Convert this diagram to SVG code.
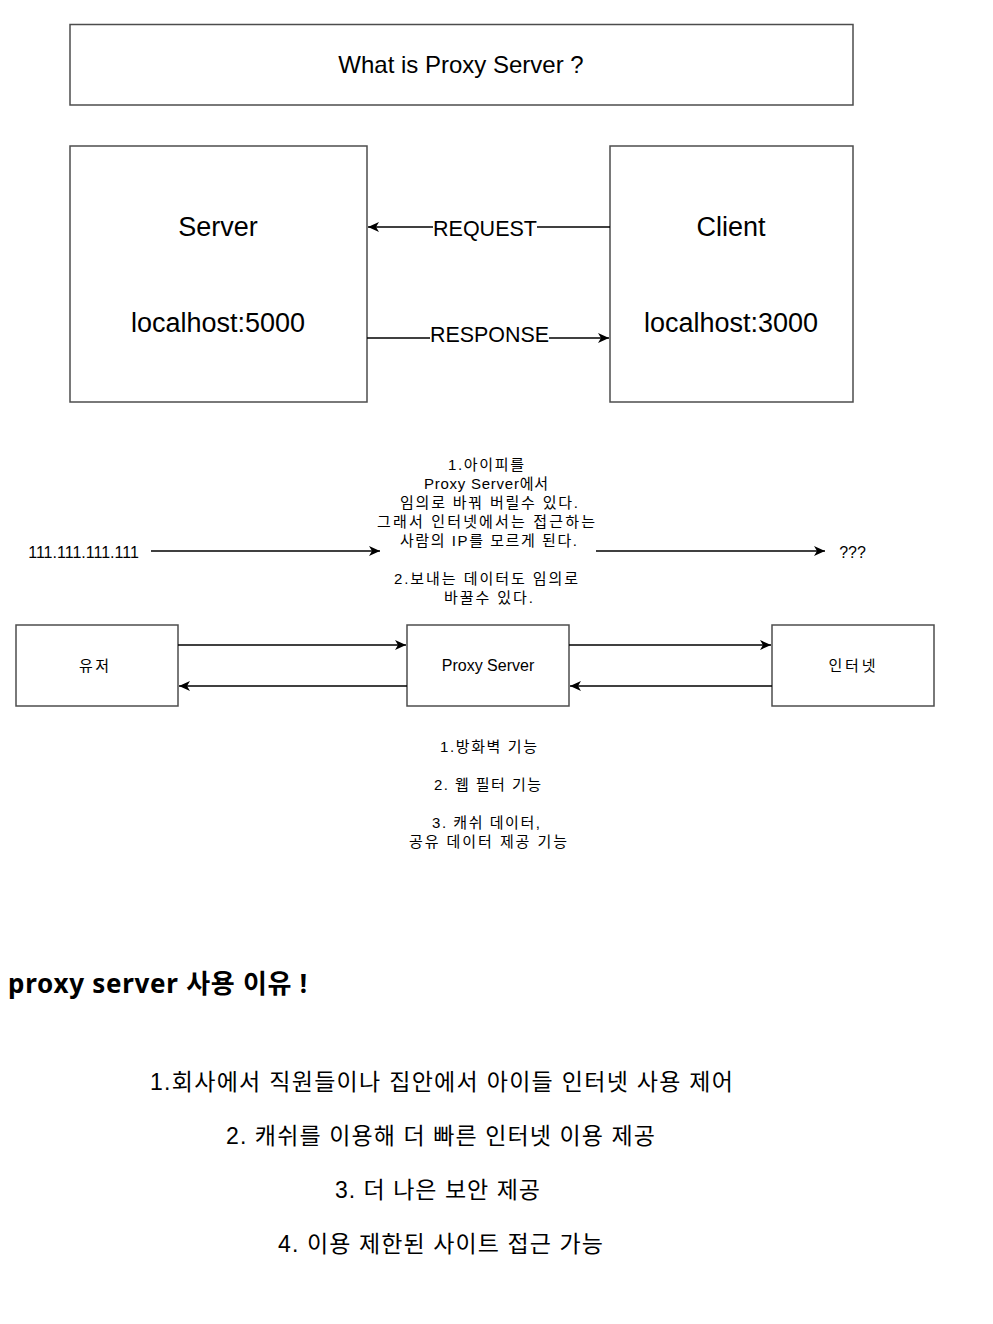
<svg xmlns="http://www.w3.org/2000/svg" width="993" height="1324" viewBox="0 0 993 1324">
<style>
.box{fill:#fff;stroke:#4d4d4d;stroke-width:1.5}
.t{font-family:"Liberation Sans","Noto Sans CJK KR",sans-serif;fill:#000;text-anchor:middle;dominant-baseline:central}
.k{font-size:15px}
.r{font-size:23px}
.ln{stroke:#000;stroke-width:1.3;fill:none}
</style>
<defs>
<marker id="ah" markerWidth="12" markerHeight="10" refX="11" refY="5" orient="auto" markerUnits="userSpaceOnUse">
<path d="M0,0 L11,5 L0,10 L3,5 Z" fill="#000"/>
</marker>
</defs>
<rect width="993" height="1324" fill="#fff"/>
<g id="title"><rect class="box" x="70" y="24.5" width="783" height="80.5"/><text class="t" x="461" y="64" font-size="24">What is Proxy Server ?</text></g>
<g id="server"><rect class="box" x="70" y="146" width="297" height="256"/><text class="t" x="218" y="227" font-size="27">Server</text><text class="t" x="218" y="323" font-size="27">localhost:5000</text></g>
<g id="client"><rect class="box" x="610" y="146" width="243" height="256"/><text class="t" x="731" y="227" font-size="27">Client</text><text class="t" x="731" y="323" font-size="27">localhost:3000</text></g>
<g id="user"><rect class="box" x="16" y="625" width="162" height="81"/><text class="t k" x="94" y="665" textLength="30" lengthAdjust="spacing">유저</text></g>
<g id="proxy"><rect class="box" x="407" y="625" width="162" height="81"/><text class="t" x="488" y="665" font-size="16">Proxy Server</text></g>
<g id="internet"><rect class="box" x="772" y="625" width="162" height="81"/><text class="t k" x="852" y="665" textLength="47" lengthAdjust="spacing">인터넷</text></g>
<g id="connectors">
<line class="ln" x1="610" y1="227" x2="368" y2="227" marker-end="url(#ah)"/>
<rect x="433" y="216" width="104" height="24" fill="#fff"/>
<text class="t" x="485" y="228" font-size="22" textLength="104" lengthAdjust="spacingAndGlyphs">REQUEST</text>
<line class="ln" x1="367" y1="338" x2="609" y2="338" marker-end="url(#ah)"/>
<rect x="430" y="323" width="119" height="24" fill="#fff"/>
<text class="t" x="489.5" y="334" font-size="22" textLength="119" lengthAdjust="spacingAndGlyphs">RESPONSE</text>
<line class="ln" x1="151" y1="551" x2="380" y2="551" marker-end="url(#ah)"/>
<line class="ln" x1="596" y1="551" x2="825" y2="551" marker-end="url(#ah)"/>
<line class="ln" x1="178" y1="645" x2="406" y2="645" marker-end="url(#ah)"/>
<line class="ln" x1="407" y1="686" x2="179" y2="686" marker-end="url(#ah)"/>
<line class="ln" x1="569" y1="645" x2="771" y2="645" marker-end="url(#ah)"/>
<line class="ln" x1="772" y1="686" x2="570" y2="686" marker-end="url(#ah)"/>
</g>
<g id="ip"><text class="t" x="83.5" y="552" font-size="16">111.111.111.111</text></g>
<g id="unknown"><text class="t" x="852.5" y="552" font-size="16">???</text></g>
<g id="note1">
<text class="t k" x="486" y="464" textLength="76" lengthAdjust="spacing">1.아이피를</text>
<text class="t k" x="486" y="483" textLength="124" lengthAdjust="spacing">Proxy Server에서</text>
<text class="t k" x="489" y="502" textLength="178" lengthAdjust="spacing">임의로 바꿔 버릴수 있다.</text>
<text class="t k" x="486" y="521" textLength="218" lengthAdjust="spacing">그래서 인터넷에서는 접근하는</text>
<text class="t k" x="488.5" y="540" textLength="177" lengthAdjust="spacing">사람의 IP를 모르게 된다.</text>
<text class="t k" x="486" y="578" textLength="184" lengthAdjust="spacing">2.보내는 데이터도 임의로</text>
<text class="t k" x="488.5" y="597" textLength="89" lengthAdjust="spacing">바꿀수 있다.</text>
</g>
<g id="note2">
<text class="t k" x="488.5" y="746" textLength="97" lengthAdjust="spacing">1.방화벽 기능</text>
<text class="t k" x="487.5" y="784" textLength="107" lengthAdjust="spacing">2. 웹 필터 기능</text>
<text class="t k" x="486" y="822" textLength="108" lengthAdjust="spacing">3. 캐쉬 데이터,</text>
<text class="t k" x="488" y="841" textLength="158" lengthAdjust="spacing">공유 데이터 제공 기능</text>
</g>
<g id="heading"><text x="8" y="983" font-size="26" font-weight="bold" font-family="'Noto Sans','Noto Sans CJK KR',sans-serif" dominant-baseline="central" fill="#000" textLength="299" lengthAdjust="spacing">proxy server 사용 이유 !</text></g>
<g id="reasons">
<text class="t r" x="441.5" y="1082" textLength="583" lengthAdjust="spacing">1.회사에서 직원들이나 집안에서 아이들 인터넷 사용 제어</text>
<text class="t r" x="440.5" y="1136" textLength="429" lengthAdjust="spacing">2. 캐쉬를 이용해 더 빠른 인터넷 이용 제공</text>
<text class="t r" x="437.5" y="1190" textLength="205" lengthAdjust="spacing">3. 더 나은 보안 제공</text>
<text class="t r" x="440.5" y="1244" textLength="325" lengthAdjust="spacing">4. 이용 제한된 사이트 접근 가능</text>
</g>
</svg>
